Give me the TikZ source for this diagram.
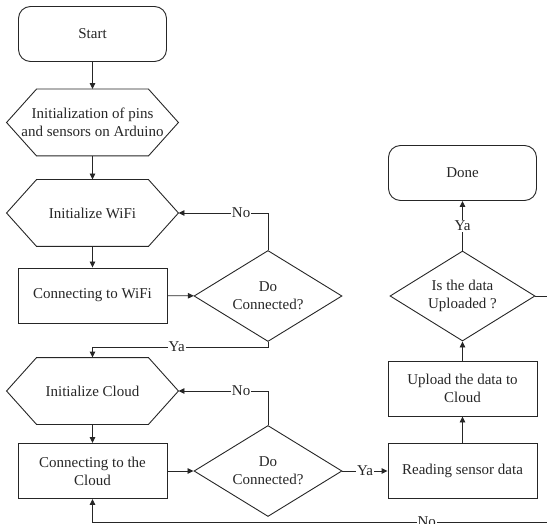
\documentclass[tikz,border=0pt]{standalone}
\usepackage{fontspec}
\setmainfont{Liberation Serif}
\usetikzlibrary{shapes.geometric,arrows.meta}

\begin{document}
\begin{tikzpicture}[x=1pt,y=-1pt,line width=0.9pt,color=black!85,
	font=\fontsize{15}{18}\selectfont,
	term/.style={draw,rounded corners=12pt,minimum width=148pt,minimum height=55pt,inner sep=0pt},
	proc/.style={draw,minimum width=149pt,minimum height=55pt,inner sep=0pt,align=center},
	hexa/.style={minimum width=171pt,minimum height=66pt,inner sep=0pt,align=center},
	dec/.style={draw,diamond,aspect=1.6,minimum width=148pt,minimum height=91pt,inner sep=0pt,align=center},
	arr/.style={-{Triangle[length=6pt,width=5.5pt]}},
	lbl/.style={fill=white,inner sep=1pt}]
	\useasboundingbox (0,0) rectangle (547,524);
	\clip (0,0) rectangle (547,524);
	\node[term] (start) at (92.5,34) {Start};
	\node[hexa] (pins) at (92.5,122.5) {Initialization of pins\\and sensors on Arduino};
	\node[hexa] (wifi) at (92.5,213) {Initialize WiFi};
	\node[proc] (cwifi) at (92.5,295.5) {Connecting to WiFi};
	\node[dec] (d1) at (268,296) {Do\\Connected?};
	\node[hexa] (cloud) at (92.5,391) {Initialize Cloud};
	\node[proc] (ccloud) at (92.5,471) {Connecting to the\\Cloud};
	\node[dec] (d2) at (268,471) {Do\\Connected?};
	\node[proc] (read) at (462.5,471) {Reading sensor data};
	\node[proc] (upload) at (462.5,388.5) {Upload the data to\\Cloud};
	\node[dec,minimum width=145pt,minimum height=90pt] (d3) at (462.5,296) {Is the data\\Uploaded ?};
	\node[term] (done) at (462.5,173) {Done};
	\coordinate (back) at (570,522);
	\foreach \h in {pins,wifi,cloud}
		\draw (\h.west) -- ([xshift=30pt]\h.north west) -- ([xshift=-30pt]\h.north east) -- (\h.east)
			-- ([xshift=-30pt]\h.south east) -- ([xshift=30pt]\h.south west) -- cycle;
	\draw[arr] (start) -- (pins);
	\draw[arr] (pins) -- (wifi);
	\draw[arr] (wifi) -- (cwifi);
	\draw[arr] (cwifi) -- (d1);
	\draw[arr] (d1.north) |- node[lbl,pos=0.65] {No} (wifi.east);
	\draw[arr] (d1.south) -- ++(0,5) -| node[lbl,pos=0.26] {Ya} (cloud.north);
	\draw[arr] (cloud) -- (ccloud);
	\draw[arr] (ccloud) -- (d2);
	\draw[arr] (d2.north) |- node[lbl,pos=0.65] {No} (cloud.east);
	\draw[arr] (d2) -- node[lbl] {Ya} (read);
	\draw[arr] (read) -- (upload);
	\draw[arr] (upload) -- (d3);
	\draw[arr] (d3) -- node[lbl] {Ya} (done);
	\draw[arr] (d3.east) -| (back) -| node[lbl,pos=0.15] {No} (ccloud.south);
\end{tikzpicture}
\end{document}
